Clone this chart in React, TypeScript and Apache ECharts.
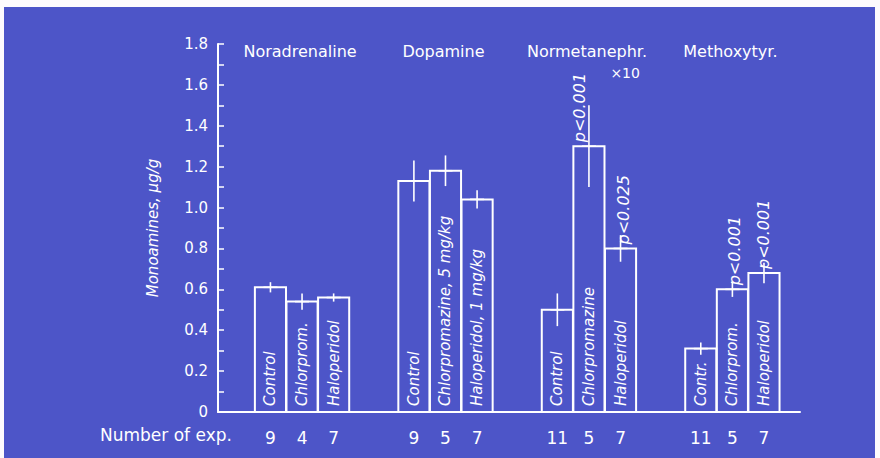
import React, { useEffect, useRef } from "react";
import * as echarts from "echarts";

// ---- data ----
const groupNames = ["Noradrenaline", "Dopamine", "Normetanephr.", "Methoxytyr."];
const groupNotes = ["", "", "×10", ""];
const barLabels = [
  ["Control", "Chlorprom.", "Haloperidol"],
  ["Control", "Chlorpromazine, 5 mg/kg", "Haloperidol, 1 mg/kg"],
  ["Control", "Chlorpromazine", "Haloperidol"],
  ["Contr.", "Chlorprom.", "Haloperidol"],
];
const means = [
  [0.61, 0.54, 0.56],
  [1.13, 1.18, 1.04],
  [0.5, 1.3, 0.8],
  [0.31, 0.6, 0.68],
];
const errors = [
  [0.025, 0.04, 0.02],
  [0.1, 0.075, 0.045],
  [0.08, 0.2, 0.065],
  [0.03, 0.037, 0.05],
];
const pValues = [
  ["", "", ""],
  ["", "", ""],
  ["", "p<0.001", "p<0.025"],
  ["", "p<0.001", "p<0.001"],
];
const nExp = [
  ["9", "4", "7"],
  ["9", "5", "7"],
  ["11", "5", "7"],
  ["11", "5", "7"],
];
const yAxisName = "Monoamines, μg/g";
const nExpTitle = "Number of exp.";

// ---- layout ----
const GROUP_START = 1.66;
const GROUP_STEP = 4.54;
const X_MAX = 18.42;
const BAR_W = 0.985;
const pSide = [
  [0, 0, 0],
  [0, 0, 0],
  [0, -9, 3],
  [0, 2, 0],
];
const FONT = "'DejaVu Sans', sans-serif";
const WHITE = "#ffffff";

export default function App() {
  const ref = useRef<HTMLDivElement>(null);

  useEffect(() => {
    if (!ref.current) return;
    const chart = echarts.init(ref.current, null, { renderer: "svg" });

    const items: any[] = [];
    means.forEach((g, gi) =>
      g.forEach((m, bi) => {
        items.push([GROUP_START + gi * GROUP_STEP + bi, m, errors[gi][bi], gi, bi]);
      })
    );

    const renderItem = (params: any, api: any) => {
      const x = api.value(0);
      const m = api.value(1);
      const e = api.value(2);
      const gi = api.value(3);
      const bi = api.value(4);
      const base = api.coord([x, 0]);
      const top = api.coord([x, m]);
      const half = api.size([BAR_W, 0])[0] / 2;
      const eTop = api.coord([x, m + e]);
      const eBot = api.coord([x, m - e]);
      const children: any[] = [
        {
          type: "rect",
          shape: { x: base[0] - half, y: top[1], width: half * 2, height: base[1] - top[1] },
          style: { fill: "none", stroke: WHITE, lineWidth: 2 },
        },
        {
          type: "line",
          shape: { x1: eTop[0], y1: eTop[1], x2: eBot[0], y2: eBot[1] },
          style: { stroke: WHITE, lineWidth: 1.6 },
        },
        {
          type: "line",
          shape: { x1: top[0] - 7, y1: top[1], x2: top[0] + 7, y2: top[1] },
          style: { stroke: WHITE, lineWidth: 1.6 },
        },
        {
          type: "text",
          x: base[0],
          y: base[1] - 6,
          rotation: Math.PI / 2,
          style: {
            text: barLabels[gi][bi],
            fill: WHITE,
            fontSize: 15,
            fontStyle: "italic",
            fontFamily: FONT,
            align: "left",
            verticalAlign: "middle",
          },
        },
        {
          type: "text",
          x: base[0],
          y: base[1] + 26,
          style: {
            text: nExp[gi][bi],
            fill: WHITE,
            fontSize: 17,
            fontFamily: FONT,
            align: "center",
            verticalAlign: "middle",
          },
        },
      ];
      const p = pValues[gi][bi];
      if (p) {
        children.push({
          type: "text",
          x: top[0] + pSide[gi][bi],
          y: top[1] - 4,
          rotation: Math.PI / 2,
          style: {
            text: p,
            fill: WHITE,
            fontSize: 16,
            fontStyle: "italic",
            fontFamily: FONT,
            align: "left",
            verticalAlign: "middle",
          },
        });
      }
      if (bi === 1) {
        const t = api.coord([x, 1.8]);
        children.push({
          type: "text",
          x: t[0] - 2,
          y: t[1] + 7,
          style: {
            text: groupNames[gi],
            fill: WHITE,
            fontSize: 16,
            fontFamily: FONT,
            align: "center",
            verticalAlign: "middle",
          },
        });
        if (groupNotes[gi]) {
          children.push({
            type: "text",
            x: t[0] + 51,
            y: t[1] + 29,
            style: {
              text: groupNotes[gi],
              fill: WHITE,
              fontSize: 14,
              fontFamily: FONT,
              align: "right",
              verticalAlign: "middle",
            },
          });
        }
      }
      return { type: "group", children };
    };

    chart.setOption({
      animation: false,
      backgroundColor: "transparent",
      grid: { left: 214, right: 75, top: 37, bottom: 46 },
      xAxis: {
        type: "value",
        min: 0,
        max: X_MAX,
        axisLine: { show: true, lineStyle: { color: WHITE, width: 2 } },
        axisTick: { show: false },
        axisLabel: { show: false },
        splitLine: { show: false },
      },
      yAxis: {
        type: "value",
        min: 0,
        max: 1.8,
        interval: 0.2,
        name: yAxisName,
        nameLocation: "middle",
        nameRotate: 90,
        nameGap: 58,
        nameTextStyle: { color: WHITE, fontSize: 15, fontStyle: "italic", fontFamily: FONT },
        axisLine: { show: true, lineStyle: { color: WHITE, width: 2 } },
        axisTick: { show: true, inside: true, length: 6, lineStyle: { color: WHITE, width: 1.5 } },
        minorTick: { show: true, splitNumber: 2, length: 6, lineStyle: { color: WHITE, width: 1.5 } },
        splitLine: { show: false },
        minorSplitLine: { show: false },
        axisLabel: {
          color: WHITE,
          fontSize: 15,
          fontFamily: FONT,
          margin: 10,
          formatter: (v: number) => (v === 0 ? "0" : v.toFixed(1)),
        },
      },
      graphic: [
        {
          type: "text",
          left: 96,
          top: 419,
          style: { text: nExpTitle, fill: WHITE, fontSize: 17, fontFamily: FONT },
        },
      ],
      series: [
        {
          type: "custom",
          clip: false,
          renderItem,
          data: items,
        },
      ],
    });

    return () => chart.dispose();
  }, []);

  return (
    <div style={{ position: "absolute", left: 0, top: 0, width: 880, height: 458, background: "#fdfbfd", overflow: "hidden" }}>
      <div
        ref={ref}
        style={{ position: "absolute", left: 4, top: 7, width: 871, height: 451, background: "#4d55c8" }}
      />
    </div>
  );
}
